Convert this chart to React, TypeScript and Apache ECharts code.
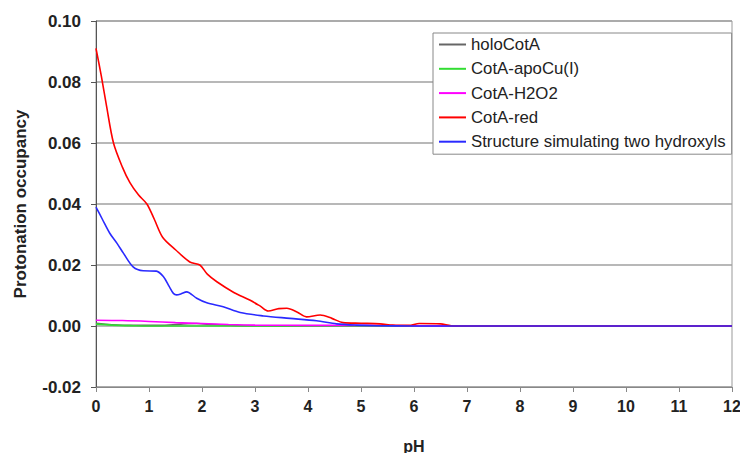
import React, { useEffect, useRef } from "react";
import * as echarts from "echarts";

const seriesNames = [
  "holoCotA",
  "CotA-apoCu(I)",
  "CotA-H2O2",
  "CotA-red",
  "Structure simulating two hydroxyls",
];

const holoPH = [0, 0.3, 0.7, 1.2, 1.6, 1.9, 2.2, 2.6, 3, 4, 6, 8, 10, 12];
const holoVal = [0.0009, 0.0004, 0.0002, 0.0002, 0.0006, 0.0008, 0.0005, 0.0002, 0.0001, 0, 0, 0, 0, 0];

const apoPH = [0, 0.3, 0.7, 1, 2, 3, 4, 6, 8, 10, 12];
const apoVal = [0.0006, 0.0003, 0.0001, 0, 0, 0, 0, 0, 0, 0, 0];

const h2o2PH = [0, 0.5, 1, 1.5, 2, 2.5, 3, 4, 5, 6, 7, 8, 10, 12];
const h2o2Val = [0.0019, 0.0018, 0.0015, 0.0011, 0.0008, 0.0005, 0.0003, 0.0002, 0.0002, 0.0001, 0, 0, 0, 0];

const redPH = [0, 0.1, 0.2, 0.33, 0.5, 0.64, 0.8, 0.96, 1.1, 1.26, 1.5, 1.77, 1.96, 2.1, 2.28, 2.6, 2.9, 3.1, 3.25, 3.45, 3.6, 3.8, 3.97, 4.23, 4.45, 4.66, 5.0, 5.36, 5.6, 5.9, 6.1, 6.5, 6.7, 7, 8, 9, 10, 11, 12];
const redVal = [0.091, 0.082, 0.072, 0.06, 0.052, 0.047, 0.043, 0.04, 0.035, 0.029, 0.025, 0.021, 0.02, 0.017, 0.0145, 0.011, 0.0085, 0.0065, 0.0049, 0.0057, 0.0058, 0.0045, 0.003, 0.0036, 0.0025, 0.0011, 0.0009, 0.0007, 0.0003, 0.0002, 0.0008, 0.0007, 0.0001, 0, 0, 0, 0, 0, 0];

const bluePH = [0, 0.12, 0.26, 0.4, 0.52, 0.7, 0.89, 1.14, 1.27, 1.38, 1.46, 1.52, 1.6, 1.71, 1.9, 2.09, 2.4, 2.72, 3.16, 3.66, 4.16, 4.54, 4.9, 5.3, 6, 7, 8, 9, 10, 11, 12];
const blueVal = [0.039, 0.035, 0.0304, 0.027, 0.0238, 0.0194, 0.0181, 0.018, 0.0162, 0.013, 0.0107, 0.0102, 0.0105, 0.0112, 0.0091, 0.0076, 0.0063, 0.0044, 0.0033, 0.0025, 0.0017, 0.0007, 0.0003, 0.0001, 0, 0, 0, 0, 0, 0, 0];

const xTicks = [0, 12, 1];
const yTicks = [-0.02, 0.1, 0.02];

const colors = ["#666666", "#33dd33", "#ff00ff", "#ff0000", "#2a2aff"];

const zip = (xs: number[], ys: number[]) => xs.map((x, i) => [x, ys[i]]);

export default function App() {
  const ref = useRef<HTMLDivElement>(null);
  useEffect(() => {
    document.body.style.margin = "0";
    if (!ref.current) return;
    const chart = echarts.init(ref.current, undefined, { renderer: "svg" });
    const datasets = [
      zip(holoPH, holoVal),
      zip(apoPH, apoVal),
      zip(h2o2PH, h2o2Val),
      zip(redPH, redVal),
      zip(bluePH, blueVal),
    ];
    const labelFont = {
      fontFamily: "Liberation Sans, Arial, sans-serif",
      fontWeight: "bold" as const,
      fontSize: 17,
      color: "#222",
    };
    chart.setOption({
      animation: false,
      backgroundColor: "#ffffff",
      grid: {
        left: 96,
        right: 8,
        top: 21,
        bottom: 66,
        show: true,
        borderColor: "#999",
        borderWidth: 1,
        containLabel: false,
        outerBoundsMode: "none",
      },
      legend: {
        orient: "vertical",
        left: 433,
        top: 33,
        padding: [3, 6, 4, 5],
        itemWidth: 27,
        itemHeight: 16,
        itemGap: 7.3,
        backgroundColor: "#fff",
        borderColor: "#888",
        borderWidth: 1,
        borderRadius: 0,
        data: seriesNames,
        itemStyle: { opacity: 0 },
        lineStyle: { width: 2 },
        textStyle: {
          fontFamily: "Liberation Sans, Arial, sans-serif",
          fontSize: 16.8,
          color: "#222",
        },
      },
      xAxis: {
        type: "value",
        min: xTicks[0],
        max: xTicks[1],
        interval: xTicks[2],
        name: "pH",
        nameLocation: "middle",
        nameGap: 51,
        nameTextStyle: { ...labelFont, fontSize: 16 },
        axisLine: { show: true, onZero: false, lineStyle: { color: "#888", width: 1 } },
        axisTick: { show: true, inside: false, length: 5, lineStyle: { color: "#888" } },
        axisLabel: { ...labelFont, fontSize: 16, margin: 11 },
        splitLine: { show: false },
      },
      yAxis: {
        type: "value",
        min: yTicks[0],
        max: yTicks[1],
        interval: yTicks[2],
        name: "Protonation occupancy",
        nameLocation: "middle",
        nameGap: 67,
        nameTextStyle: { ...labelFont, fontSize: 17 },
        axisLine: { show: true, lineStyle: { color: "#555", width: 1 } },
        axisTick: { show: true, inside: false, length: 5, lineStyle: { color: "#555" } },
        axisLabel: {
          ...labelFont,
          margin: 15,
          formatter: (v: number) => v.toFixed(2),
        },
        splitLine: { show: true, lineStyle: { color: "#a0a0a0", width: 1.5 } },
      },
      series: seriesNames.map((name, i) => ({
        name,
        type: "line",
        data: datasets[i],
        symbol: "none",
        showSymbol: false,
        smooth: 0.3,
        color: colors[i],
        lineStyle: { color: colors[i], width: 1.6 },
        z: 2 + i,
      })),
    });
    return () => chart.dispose();
  }, []);
  return <div ref={ref} style={{ width: 740, height: 453 }} />;
}
